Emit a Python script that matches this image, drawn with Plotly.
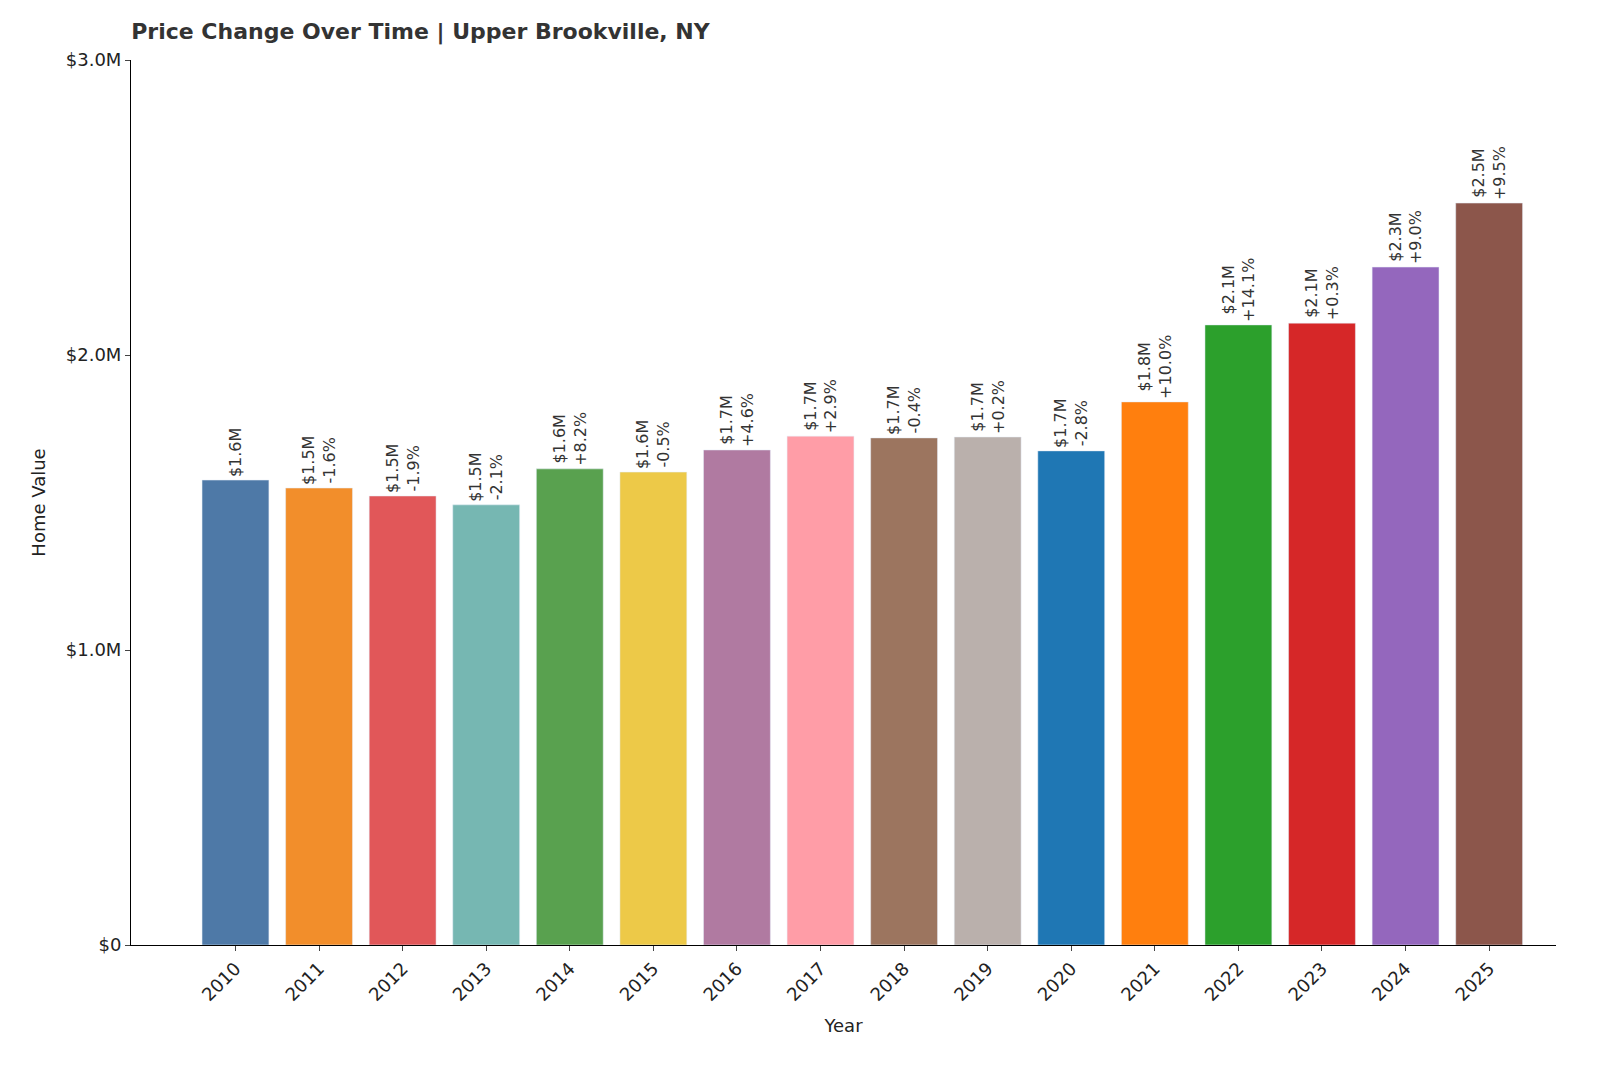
import plotly.graph_objects as go

years = [str(y) for y in range(2010, 2026)]
values = [1.576, 1.549, 1.522, 1.492, 1.614, 1.603, 1.678, 1.725, 1.719, 1.722, 1.675, 1.841, 2.102, 2.108, 2.298, 2.515]
values = [v * 1e6 for v in values]
changes = ["", "-1.6%", "-1.9%", "-2.1%", "+8.2%", "-0.5%", "+4.6%", "+2.9%", "-0.4%", "+0.2%", "-2.8%", "+10.0%", "+14.1%", "+0.3%", "+9.0%", "+9.5%"]
value_labels = ["$1.6M", "$1.5M", "$1.5M", "$1.5M", "$1.6M", "$1.6M", "$1.7M", "$1.7M", "$1.7M", "$1.7M", "$1.7M", "$1.8M", "$2.1M", "$2.1M", "$2.3M", "$2.5M"]
colors = ["#4e79a7", "#f28e2b", "#e15759", "#76b7b2", "#59a14f", "#edc948", "#b07aa1", "#ff9da7",
          "#9c755f", "#bab0ac", "#1f77b4", "#ff7f0e", "#2ca02c", "#d62728", "#9467bd", "#8c564b"]

texts = [v if not c else v + "<br>" + c for v, c in zip(value_labels, changes)]

fig = go.Figure(go.Bar(
    x=years, y=values, marker_color=colors, width=0.8,
    text=texts, textposition="outside", textangle=-90, cliponaxis=False,
    textfont=dict(size=16, color="#333333", family="DejaVu Sans"),
))
fig.update_layout(
    width=1600, height=1067, plot_bgcolor="white", paper_bgcolor="white",
    margin=dict(l=123, r=52, t=52, b=130),
    font=dict(family="DejaVu Sans", size=18, color="#222222"),
    title=dict(text="<b>Price Change Over Time | Upper Brookville, NY</b>", x=0.077, xanchor="left",
               y=0.985, yanchor="top", font=dict(size=22, color="#333333")),
    showlegend=False, bargap=0.2,
)
fig.update_xaxes(title_text="Year", tickangle=-45, showline=True, linecolor="black", ticks="outside",
                 tickfont=dict(size=18), title_font=dict(size=18), range=[-1.25, 15.8])
fig.update_yaxes(title_text="Home Value", range=[0, 3e6], tickvals=[0, 1e6, 2e6, 3e6],
                 ticktext=["$0", "$1.0M", "$2.0M", "$3.0M"], showline=True, linecolor="black",
                 ticks="outside", showgrid=False, zeroline=False, tickfont=dict(size=18), title_font=dict(size=18))
fig.write_html("out.html")
